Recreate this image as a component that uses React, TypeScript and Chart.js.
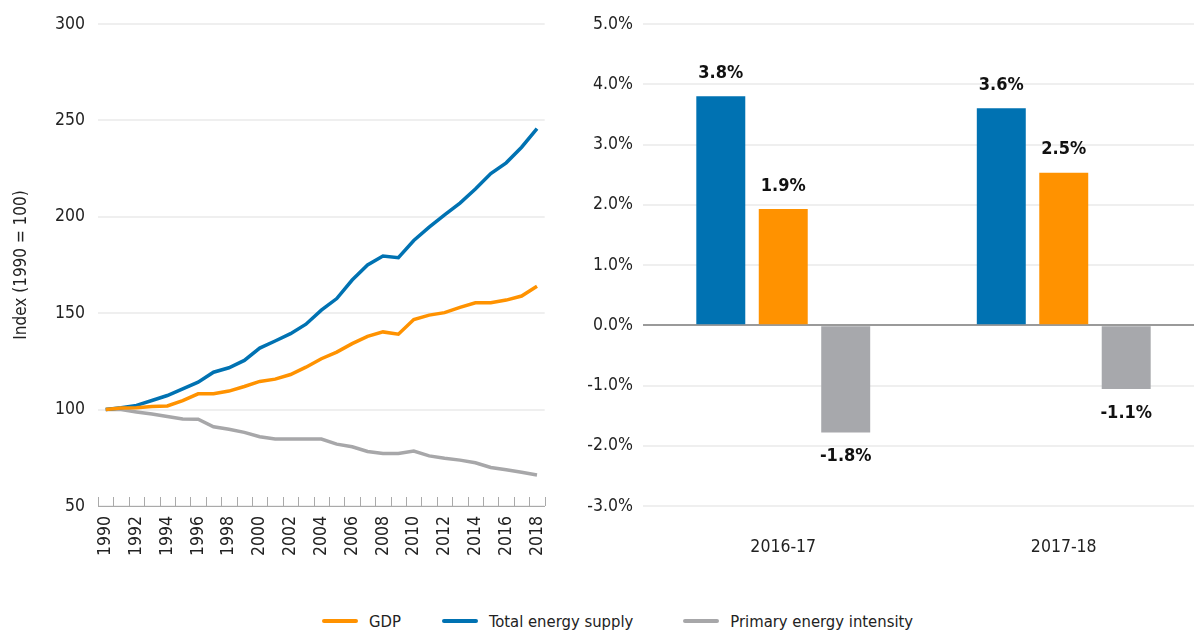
import React, { useEffect, useRef } from 'react';
import { Chart, registerables } from 'chart.js';

Chart.register(...registerables);

// ---------- Data ----------
const years = [
  '1990', '1991', '1992', '1993', '1994', '1995', '1996', '1997', '1998', '1999',
  '2000', '2001', '2002', '2003', '2004', '2005', '2006', '2007', '2008', '2009',
  '2010', '2011', '2012', '2013', '2014', '2015', '2016', '2017', '2018',
];
const gdpIndex = [
  100, 100.8, 101, 101.6, 101.9, 104.7, 108.2, 108.2, 109.6, 112,
  114.6, 115.8, 118.2, 122, 126.4, 129.8, 134.2, 138, 140.3, 139.1,
  146.7, 149, 150.3, 153, 155.4, 155.4, 156.8, 158.9, 164,
];
const energySupplyIndex = [
  100, 101, 102.2, 104.7, 107.3, 110.8, 114.2, 119.4, 121.7, 125.5,
  131.9, 135.6, 139.4, 144.3, 151.6, 157.6, 167.2, 175, 179.7, 178.8,
  187.7, 194.6, 201, 207.1, 214.4, 222.4, 228, 236.1, 245.7,
];
const energyIntensityIndex = [
  100, 100, 98.8, 97.7, 96.4, 95.1, 95, 91.1, 89.8, 88.2,
  85.9, 84.7, 84.7, 84.7, 84.7, 82.1, 80.7, 78.3, 77.2, 77.2,
  78.5, 76, 74.8, 73.8, 72.4, 70, 68.8, 67.5, 66.1,
];

const periods = ['2016-17', '2017-18'];
const supplyGrowth = [3.8, 3.6];
const gdpGrowth = [1.93, 2.53];
const intensityGrowth = [-1.78, -1.06];

const indexTicks = [50, 100, 150, 200, 250, 300];
const growthTicks = [-3, -2, -1, 0, 1, 2, 3, 4, 5];

// ---------- Styles ----------
const BLUE = '#0072B2';
const ORANGE = '#FF9200';
const GRAY_LINE = '#A7A7A9';
const GRAY_BAR = '#A7A8AC';
const TEXT = '#222222';
const FONT = "'Liberation Sans Narrow', 'Arial Narrow', 'DejaVu Sans Condensed', sans-serif";
const TICK_SIZE = 17.5;

const legendItems = [
  { label: 'GDP', color: ORANGE, gap: 0 },
  { label: 'Total energy supply', color: BLUE, gap: 41 },
  { label: 'Primary energy intensity', color: GRAY_LINE, gap: 50 },
];

const upTicksPlugin = {
  id: 'upTicks',
  afterDraw(chart: any) {
    const x = chart.scales.x;
    const ctx = chart.ctx;
    const n = x.ticks.length;
    const w = (x.right - x.left) / n;
    ctx.save();
    ctx.strokeStyle = '#aaaaaa';
    ctx.lineWidth = 1;
    for (let k = 0; k <= n; k++) {
      const base = k < n ? x.getPixelForTick(k) - w / 2 : x.getPixelForTick(n - 1) + w / 2;
      const px = Math.round(base) + 0.5;
      ctx.beginPath();
      ctx.moveTo(px, x.top);
      ctx.lineTo(px, x.top - 9);
      ctx.stroke();
    }
    ctx.restore();
  },
};

const barLabelPlugin = {
  id: 'barLabels',
  afterDatasetsDraw(chart: any) {
    const ctx = chart.ctx;
    ctx.save();
    ctx.font = `bold 18px ${FONT}`;
    ctx.fillStyle = '#111111';
    ctx.textAlign = 'center';
    ctx.textBaseline = 'middle';
    chart.data.datasets.forEach((ds: any, di: number) => {
      const meta = chart.getDatasetMeta(di);
      meta.data.forEach((bar: any, i: number) => {
        const v = ds.data[i] as number;
        const y = v >= 0 ? bar.y - 23 : bar.y + 24;
        ctx.fillText(`${v.toFixed(1)}%`, bar.x, y);
      });
    });
    ctx.restore();
  },
};

export default function App() {
  const lineRef = useRef<HTMLCanvasElement>(null);
  const barRef = useRef<HTMLCanvasElement>(null);

  useEffect(() => {
    const lineChart = new Chart(lineRef.current as HTMLCanvasElement, {
      type: 'line',
      data: {
        labels: years,
        datasets: [
          { label: 'GDP', data: gdpIndex, borderColor: ORANGE, backgroundColor: ORANGE, borderWidth: 3.5, pointRadius: 0, tension: 0 },
          { label: 'Total energy supply', data: energySupplyIndex, borderColor: BLUE, backgroundColor: BLUE, borderWidth: 3.5, pointRadius: 0, tension: 0 },
          { label: 'Primary energy intensity', data: energyIntensityIndex, borderColor: GRAY_LINE, backgroundColor: GRAY_LINE, borderWidth: 3.5, pointRadius: 0, tension: 0 },
        ],
      },
      options: {
        responsive: false,
        animation: false,
        layout: { padding: { top: 24, right: 0, left: 0, bottom: 0 } },
        plugins: { legend: { display: false }, tooltip: { enabled: false } },
        scales: {
          x: {
            offset: true,
            grid: { display: false, drawTicks: false, offset: true },
            border: { display: true, color: '#aaaaaa', width: 1 },
            ticks: {
              autoSkip: false,
              maxRotation: 90,
              minRotation: 90,
              padding: 10,
              color: TEXT,
              font: { family: FONT, size: TICK_SIZE },
              callback: (_v: any, i: number) => (i % 2 === 0 ? years[i] : ''),
            },
            afterFit: (s: any) => { s.height = 69; },
          },
          y: {
            min: 50,
            max: 300,
            afterBuildTicks: (s: any) => { s.ticks = indexTicks.map((v) => ({ value: v })); },
            ticks: { padding: 13, color: TEXT, font: { family: FONT, size: TICK_SIZE } },
            grid: { color: '#efefef', lineWidth: 2, drawTicks: false },
            border: { display: false },
            title: {
              display: true,
              text: 'Index (1990 = 100)',
              color: TEXT,
              font: { family: FONT, size: 17 },
              padding: { top: 11, bottom: 0 },
            },
            afterFit: (s: any) => { s.width = 98; },
          },
        },
      } as any,
      plugins: [upTicksPlugin],
    });

    const barChart = new Chart(barRef.current as HTMLCanvasElement, {
      type: 'bar',
      data: {
        labels: periods,
        datasets: [
          { label: 'Total energy supply', data: supplyGrowth, backgroundColor: BLUE, borderWidth: 0 },
          { label: 'GDP', data: gdpGrowth, backgroundColor: ORANGE, borderWidth: 0 },
          { label: 'Primary energy intensity', data: intensityGrowth, backgroundColor: GRAY_BAR, borderWidth: 0 },
        ],
      },
      options: {
        responsive: false,
        animation: false,
        layout: { padding: { top: 24, right: 6, left: 0, bottom: 0 } },
        datasets: { bar: { categoryPercentage: 0.668, barPercentage: 0.784 } },
        plugins: { legend: { display: false }, tooltip: { enabled: false } },
        scales: {
          x: {
            grid: { display: false, drawTicks: false },
            border: { display: false },
            ticks: { padding: 31, color: TEXT, font: { family: FONT, size: TICK_SIZE } },
            afterFit: (s: any) => { s.height = 69; },
          },
          y: {
            min: -3,
            max: 5,
            afterBuildTicks: (s: any) => { s.ticks = growthTicks.map((v) => ({ value: v })); },
            ticks: {
              padding: 10,
              color: TEXT,
              font: { family: FONT, size: TICK_SIZE },
              callback: (v: any) => `${Number(v).toFixed(1)}%`,
            },
            grid: {
              drawTicks: false,
              lineWidth: 2,
              color: (c: any) => (c.tick && c.tick.value === 0 ? '#9a9a9a' : '#efefef'),
            },
            border: { display: false },
            afterFit: (s: any) => { s.width = 83; },
          },
        },
      } as any,
      plugins: [barLabelPlugin],
    });

    return () => {
      lineChart.destroy();
      barChart.destroy();
    };
  }, []);

  return (
    <div style={{ position: 'fixed', left: 0, top: 0, width: 1194, height: 632, overflow: 'hidden', background: '#ffffff' }}>
      <canvas ref={lineRef} width={568} height={575} style={{ position: 'absolute', left: 0, top: 0 }} />
      <canvas ref={barRef} width={650} height={575} style={{ position: 'absolute', left: 560, top: 0 }} />
      <div
        style={{
          position: 'absolute',
          left: 322,
          top: 609,
          height: 24,
          display: 'flex',
          alignItems: 'center',
          fontFamily: FONT,
          fontSize: 16.5,
          color: TEXT,
          whiteSpace: 'nowrap',
        }}
      >
        {legendItems.map((it) => (
          <div key={it.label} style={{ display: 'flex', alignItems: 'center', marginLeft: it.gap }}>
            <span style={{ display: 'inline-block', width: 36, height: 4, borderRadius: 2, background: it.color, marginRight: 11 }} />
            <span>{it.label}</span>
          </div>
        ))}
      </div>
    </div>
  );
}
